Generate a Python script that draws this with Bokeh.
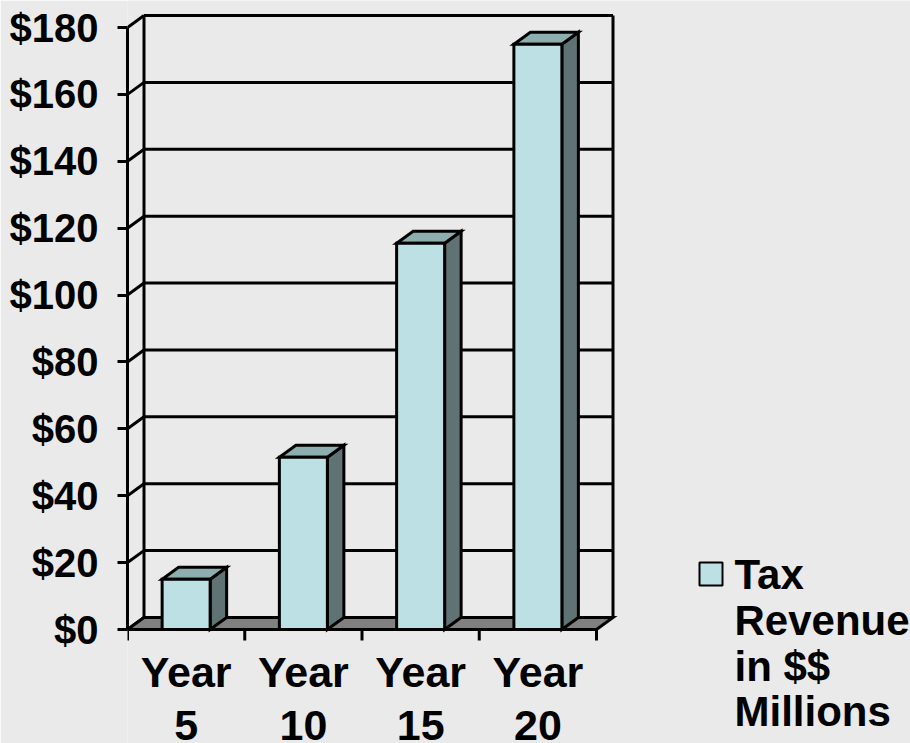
from bokeh.plotting import figure
from bokeh.models import Range1d, FixedTicker
from bokeh.core.properties import value
from bokeh.embed import file_html
from bokeh.resources import INLINE

# ---- data ----
categories = ["Year 5", "Year 10", "Year 15", "Year 20"]
cat_line1 = ["Year", "Year", "Year", "Year"]
cat_line2 = ["5", "10", "15", "20"]
revenue = [15, 51.5, 115.5, 175]
y_ticks = [0, 20, 40, 60, 80, 100, 120, 140, 160, 180]
y_tick_labels = ["$0", "$20", "$40", "$60", "$80", "$100", "$120", "$140", "$160", "$180"]
legend_lines = ["Tax", "Revenue", "in $$", "Millions"]

# ---- geometry / style ----
W, H = 910, 743
FRAME_LEFT = 127          # px, front y axis
BASE_PX = 629             # px, value 0 on front plane
TOP_PX = 27               # px, value 180 on front plane
K = (BASE_PX - TOP_PX) / 180.0   # px per unit
XPX = 117.25              # px per category
DX = 16.5 / XPX           # depth offset in x units
DY = 12.0 / K             # depth offset in y units
HW = 24.0 / XPX           # half width of bar front
LW = 3
TXT_SHIFT = 0.366         # em, baseline correction for text glyphs

BG = "#EAEAEA"
FRONT = "#BCE0E3"
SIDE = "#5F7374"
TOP = "#8EADAE"
FLOOR = "#808080"
FONT = "Liberation Sans"
XFS = 43
LFS = 42


def tx(px):
    return (px - FRAME_LEFT) / XPX


def ty(py):
    return (BASE_PX - py) / K


p = figure(width=W, height=H, output_backend="svg", toolbar_location=None,
           x_range=Range1d(0, tx(W)), y_range=Range1d(ty(H), ty(0)),
           min_border_left=FRAME_LEFT, min_border_right=0, min_border_top=0,
           min_border_bottom=0, background_fill_color=BG, border_fill_color=BG,
           outline_line_color=None, x_axis_location=None)
p.grid.visible = False

n = len(categories)
ymax = y_ticks[-1]

# back wall gridlines
p.segment(x0=[DX] * len(y_ticks), y0=[v + DY for v in y_ticks],
          x1=[n + DX] * len(y_ticks), y1=[v + DY for v in y_ticks],
          line_color="black", line_width=LW)
# wall verticals
p.segment(x0=[DX, n + DX], y0=[DY, DY], x1=[DX, n + DX], y1=[ymax + DY, ymax + DY],
          line_color="black", line_width=LW)
# side wall diagonals
p.segment(x0=[0] * len(y_ticks), y0=y_ticks, x1=[DX] * len(y_ticks),
          y1=[v + DY for v in y_ticks], line_color="black", line_width=LW)
# floor
p.patch(x=[0, n, n + DX, DX], y=[0, 0, DY, DY], fill_color=FLOOR,
        line_color="black", line_width=LW, line_join="miter")

# bars
for i, v in enumerate(revenue):
    c = i + 0.5
    l, r = c - HW, c + HW
    p.patch(x=[r, r + DX, r + DX, r], y=[0, DY, v + DY, v], fill_color=SIDE,
            line_color="black", line_width=LW, line_join="miter")
    p.patch(x=[l, r, r + DX, l + DX], y=[v, v, v + DY, v + DY], fill_color=TOP,
            line_color="black", line_width=LW, line_join="miter")
    p.quad(left=l, right=r, bottom=0, top=v, fill_color=FRONT,
           line_color="black", line_width=LW, line_join="miter")

# x axis ticks
p.segment(x0=list(range(n + 1)), y0=[0] * (n + 1), x1=list(range(n + 1)),
          y1=[ty(BASE_PX + 11)] * (n + 1), line_color="black", line_width=LW)

# category labels
centers = [i + 0.5 for i in range(n)]
p.text(x=centers, y=[ty(687 - TXT_SHIFT * XFS)] * n, text=cat_line1, text_align="center",
       text_baseline="alphabetic", text_font=value(FONT), text_font_style="bold",
       text_font_size=f"{XFS}px", text_color="black")
p.text(x=centers, y=[ty(741 - TXT_SHIFT * XFS)] * n, text=cat_line2, text_align="center",
       text_baseline="alphabetic", text_font=value(FONT), text_font_style="bold",
       text_font_size=f"{XFS}px", text_color="black")

# legend
p.quad(left=tx(699), right=tx(722), bottom=ty(585), top=ty(562), fill_color=FRONT,
       line_color="black", line_width=2)
p.text(x=[tx(734)] * len(legend_lines),
       y=[ty(589.5 + 45.7 * j - TXT_SHIFT * LFS) for j in range(len(legend_lines))],
       text=legend_lines, text_align="left", text_baseline="alphabetic",
       text_font=value(FONT), text_font_style="bold", text_font_size=f"{LFS}px",
       text_color="black")

# y axis
ax = p.yaxis[0]
ax.bounds = (0, ymax)
ax.ticker = FixedTicker(ticks=y_ticks)
ax.major_label_overrides = {t: s for t, s in zip(y_ticks, y_tick_labels)}
ax.axis_line_width = LW
ax.major_tick_line_width = LW
ax.major_tick_in = 0
ax.major_tick_out = 10
ax.minor_tick_line_color = None
ax.major_label_standoff = 19
ax.major_label_text_font = FONT
ax.major_label_text_font_style = "bold"
ax.major_label_text_font_size = "40px"
ax.major_label_text_color = "black"

open("out.html", "w").write(file_html(p, INLINE))
